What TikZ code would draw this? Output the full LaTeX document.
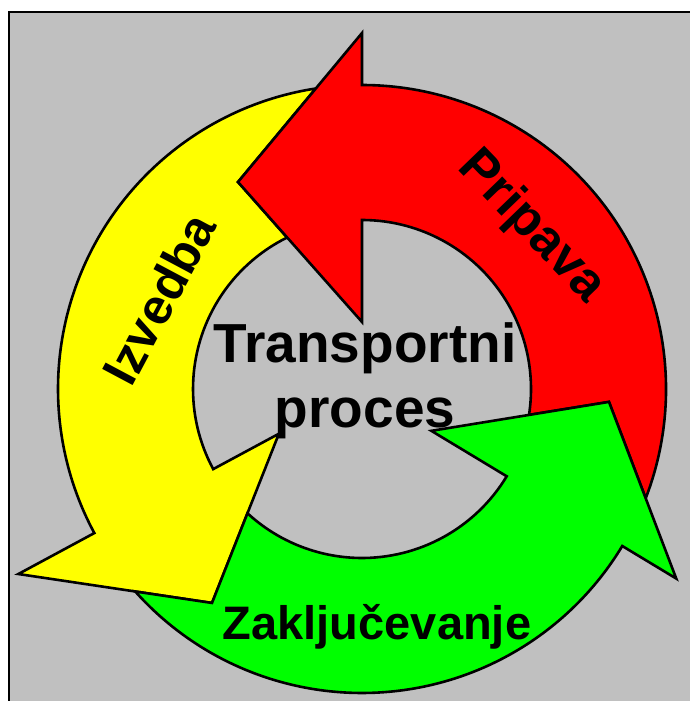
\documentclass[tikz,border=0pt]{standalone}
\usepackage{fontspec}
\setmainfont{Liberation Sans}
\definecolor{panelgray}{RGB}{192,192,192}
\definecolor{segyellow}{RGB}{255,255,0}
\definecolor{segred}{RGB}{255,0,0}
\definecolor{seggreen}{RGB}{0,255,0}
\begin{document}
\begin{tikzpicture}[x=1pt,y=1pt,
  segment/.style={draw=black, line width=2.6pt, line join=miter, miter limit=10},
  bigtext/.style={inner sep=0pt, font=\fontsize{55}{65}\selectfont\bfseries, align=center},
  ringtext/.style={inner sep=0pt, font=\fontsize{#1}{50}\selectfont\bfseries},
  ringtext/.default=47]
\useasboundingbox (0,0) rectangle (690,701);
\clip (0,0) rectangle (690,701);
\fill[white] (0,0) rectangle (690,701);
% grey panel with its frame
\draw[fill=panelgray, line width=2.5pt] (9,-20) rectangle (720,689);

% the three curved arrows around the centre of the cycle
\begin{scope}[shift={(362,312)}]
  % Izvedba (yellow), tail notched by the red head
  \path[segment, fill=segyellow] (-124,207) -- (-46.2,300.5)
    arc[start angle=98.74, end angle=208.3, radius=304]
    -- (208.3:390.3) -- (234.97:261.3) -- (208.3:94.4) -- (208.3:169)
    arc[start angle=208.3, end angle=116.31, radius=169] -- cycle;
  % Priprava (red), tail notched by the green head
  \path[segment, fill=segred] (283.7,-109.3)
    arc[start angle=-21.07, end angle=90, radius=304]
    -- (0,356) -- (-124,207) -- (0,67) -- (0,169)
    arc[start angle=90, end angle=-8.82, radius=169]
    -- (247,-12.9) -- cycle;
  % Zakljucevanje (green), tail notched by the yellow head
  \path[segment, fill=seggreen] (-150,-213.96) -- (-226.75,-202.49)
    arc[start angle=221.77, end angle=328.9, radius=304]
    -- (328.9:367) -- (247,-12.9) -- (328.9:81) -- (328.9:169)
    arc[start angle=328.9, end angle=227.33, radius=169] -- cycle;
\end{scope}

\node[bigtext, anchor=base] (title) at (365,273) {Transportni\\proces};
\node[ringtext=52, rotate=-46] (priprava) at (531,474) {Pripava};
\node[ringtext=50, rotate=62] (izvedba) at (159,402) {Izvedba};
\node[ringtext, anchor=base] (zakljucek) at (377,61) {Zaključevanje};
\end{tikzpicture}
\end{document}
